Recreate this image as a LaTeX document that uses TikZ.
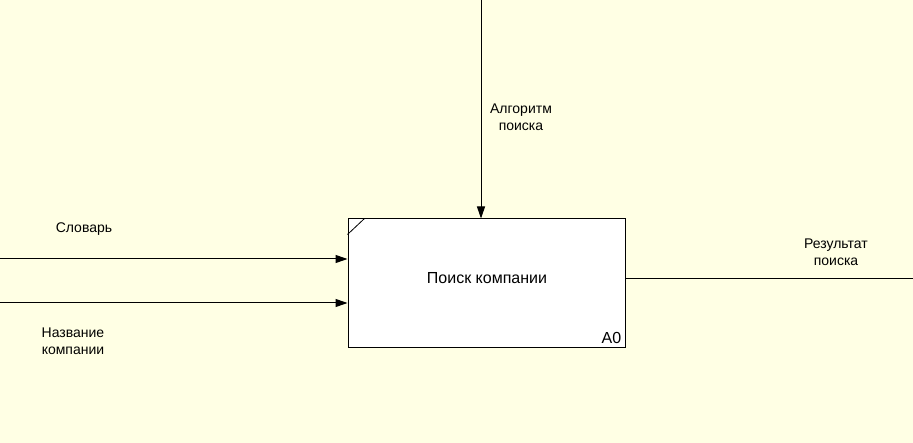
\documentclass[tikz,border=0pt]{standalone}
\usepackage{fontspec}
\setmainfont{Liberation Sans}
\usetikzlibrary{arrows.meta}
\definecolor{idefbg}{RGB}{255,255,228}
\tikzset{
	lbl/.style={align=center, font=\fontsize{14}{17}\selectfont, inner sep=0pt},
	boxlbl/.style={align=center, font=\fontsize{16}{19}\selectfont, inner sep=0pt},
	arr/.style={line width=1pt, -{Triangle[length=12pt, width=8pt]}},
	ln/.style={line width=1pt}
}

\begin{document}
\begin{tikzpicture}[x=1pt, y=-1pt]
			%%%%% START %%%%%
			
			\fill[idefbg] (0, 0) rectangle (913, 443);
			\useasboundingbox (0, 0) rectangle (913, 443);
			
			\node[draw, line width=1pt, fill=white, minimum width=277pt, minimum height=129pt, inner sep=0pt] (box) at (486.5, 283.5) {};
			\node[boxlbl] (title) at (487, 278) {Поиск компании};
			\node[boxlbl, anchor=south east] (num) at ([xshift=-4pt, yshift=5pt]box.south east) {A0};
			\draw[line width=0.8pt] ([yshift=-16pt]box.north west) -- ([xshift=17pt]box.north west);
			
			\coordinate (ctop) at (481, 0);
			\coordinate (in1) at (0, 259);
			\coordinate (in2) at (0, 303);
			\coordinate (out) at (913, 279);
			
			\draw[arr] (ctop) -- (ctop |- box.north);
			\draw[arr] (in1) -- (in1 -| box.west);
			\draw[arr] (in2) -- (in2 -| box.west);
			\draw[ln] (out -| box.east) -- (out);
			
			\node[lbl] (algo) at (521, 117) {Алгоритм\\поиска};
			\node[lbl] (dict) at (84, 229) {Словарь};
			\node[lbl] (name) at (73, 341) {Название\\компании};
			\node[lbl] (res) at (836, 252) {Результат\\поиска};
			
			%%%%% END %%%%%
		\end{tikzpicture}
\end{document}
